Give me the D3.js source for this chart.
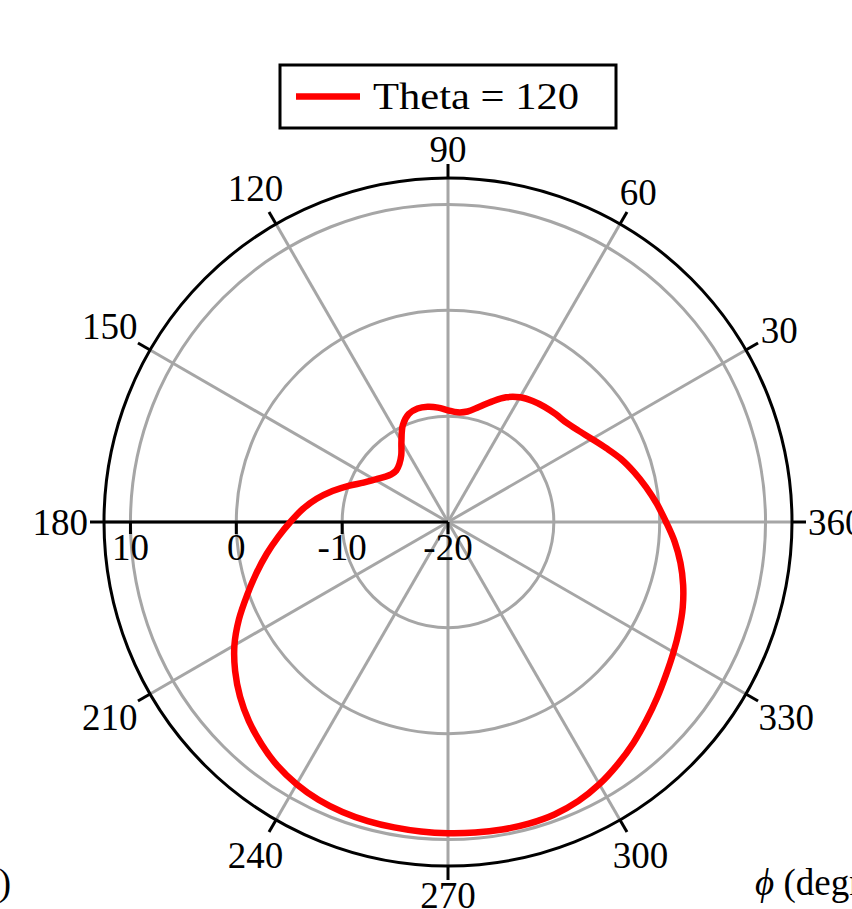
<!DOCTYPE html>
<html>
<head>
<meta charset="utf-8">
<script src="https://cdn.jsdelivr.net/npm/d3@7"></script>
<style>
  body { margin: 0; background: #fff; }
  svg text { font-family: "Liberation Serif", "Times New Roman", serif; }
</style>
</head>
<body>
<svg width="852" height="909"></svg>
<script>
// pattern data, phi in degrees, gain in dB
const phiDeg = [0, 5, 10, 15, 20, 25, 30, 35, 40, 45, 50, 55, 60, 65, 70, 75, 80, 85,
  90, 95, 100, 105, 110, 115, 120, 125, 130, 135, 140, 145, 150, 155, 160, 165, 170, 175,
  180, 185, 190, 195, 200, 205, 210, 215, 220, 225, 230, 235, 240, 245, 250, 255, 260, 265,
  270, 275, 280, 285, 290, 295, 300, 305, 310, 315, 320, 325, 330, 335, 340, 345, 350, 355];
const gainDb = [0.6, -0.2, -1.0, -1.8, -2.6, -3.5, -4.3, -4.95, -5.4, -5.6, -5.8, -6.05, -6.4, -7.0, -7.9, -8.75, -9.4, -9.6,
  -9.45, -9.15, -8.95, -8.9, -9.15, -9.9, -11.2, -12.3, -12.85, -13.1, -13.0, -12.6, -12.0, -11.2, -10.0, -8.7, -7.4, -6.2,
  -5.1, -3.9, -2.6, -1.25, 0.2, 1.8, 3.3, 4.55, 5.65, 6.6, 7.4, 8.1, 8.6, 8.95, 9.15, 9.25, 9.3, 9.35,
  9.4, 9.45, 9.5, 9.5, 9.4, 9.1, 8.6, 7.95, 7.25, 6.5, 5.8, 5.15, 4.6, 4.1, 3.6, 3.0, 2.3, 1.5];

const thetaTicks = [30, 60, 90, 120, 150, 180, 210, 240, 270, 300, 330, 360];
const rTicks = [-20, -10, 0, 10];
const rGrid = [-10, 0, 10];
const rLimits = [-20, 12.5];
const seriesLabel = "Theta = 120";
const xLabel = "(degrees)";
const yLabel = "Gain (dB)";

const cx = 448, cy = 522, R = 344;
const fs = 37;

const svg = d3.select("svg");
const g = svg.append("g").attr("transform", `translate(${cx},${cy})`);

let rScale = d3.scaleLinear().domain(rLimits).range([0, R]);
let toRad = d => d * Math.PI / 180;
// math angle (ccw from east) -> x,y on screen
let px = (deg, r) => r * Math.cos(toRad(deg));
let py = (deg, r) => -r * Math.sin(toRad(deg));

// gray grid circles
g.selectAll("circle.grid")
  .data(rGrid)
  .join("circle")
  .attr("class", "grid")
  .attr("r", d => rScale(d))
  .attr("fill", "none")
  .attr("stroke", "#a6a6a6")
  .attr("stroke-width", 3);

// gray spokes
g.selectAll("line.spoke")
  .data(thetaTicks)
  .join("line")
  .attr("class", "spoke")
  .attr("x1", 0).attr("y1", 0)
  .attr("x2", d => px(d, R)).attr("y2", d => py(d, R))
  .attr("stroke", "#a6a6a6")
  .attr("stroke-width", 3);

// outer frame
g.append("circle")
  .attr("r", R)
  .attr("fill", "none")
  .attr("stroke", "#000")
  .attr("stroke-width", 3);

// theta ticks and labels
g.selectAll("line.tt")
  .data(thetaTicks)
  .join("line")
  .attr("class", "tt")
  .attr("x1", d => px(d, R)).attr("y1", d => py(d, R))
  .attr("x2", d => px(d, R + 14)).attr("y2", d => py(d, R + 14))
  .attr("stroke", "#000")
  .attr("stroke-width", 3);

g.selectAll("text.tl")
  .data(thetaTicks)
  .join("text")
  .attr("class", "tl")
  .attr("font-size", fs)
  .attr("text-anchor", "middle")
  .text(d => d)
  .each(function(d) {
    let w = this.getComputedTextLength();
    let hh = 13;
    let a = toRad(d);
    let r = R + 16 + (w / 2) * Math.abs(Math.cos(a)) + hh * Math.abs(Math.sin(a));
    d3.select(this)
      .attr("x", px(d, r))
      .attr("y", py(d, r) + 12.5);
  });

// radial axis line along 180
g.append("line")
  .attr("x1", 0).attr("y1", 0)
  .attr("x2", -R).attr("y2", 0)
  .attr("stroke", "#000")
  .attr("stroke-width", 3);

g.selectAll("line.rt")
  .data(rTicks)
  .join("line")
  .attr("class", "rt")
  .attr("x1", d => -rScale(d)).attr("y1", 0)
  .attr("x2", d => -rScale(d)).attr("y2", 12)
  .attr("stroke", "#000")
  .attr("stroke-width", 3);

g.selectAll("text.rl")
  .data(rTicks)
  .join("text")
  .attr("class", "rl")
  .attr("font-size", fs)
  .attr("text-anchor", "middle")
  .attr("x", d => -rScale(d))
  .attr("y", 38)
  .text(d => d < 0 ? "-" + Math.abs(d) : d);

// pattern curve
let pts = phiDeg.map((p, i) => [p, gainDb[i]]);
let radial = d3.lineRadial()
  .angle(d => Math.PI / 2 - toRad(d[0]))
  .radius(d => rScale(d[1]))
  .curve(d3.curveCatmullRomClosed.alpha(0.5));

g.append("path")
  .datum(pts)
  .attr("d", radial)
  .attr("fill", "none")
  .attr("stroke", "#ff0000")
  .attr("stroke-width", 6.5)
  .attr("stroke-linejoin", "round");

// legend
let leg = svg.append("g");
leg.append("rect")
  .attr("x", 280).attr("y", 65)
  .attr("width", 336).attr("height", 63)
  .attr("fill", "#fff")
  .attr("stroke", "#000")
  .attr("stroke-width", 3);
leg.append("line")
  .attr("x1", 296).attr("x2", 360)
  .attr("y1", 96.5).attr("y2", 96.5)
  .attr("stroke", "#ff0000")
  .attr("stroke-width", 6.5);
leg.append("text")
  .attr("x", 373).attr("y", 108.5)
  .attr("font-size", fs)
  .attr("textLength", 206)
  .attr("lengthAdjust", "spacingAndGlyphs")
  .text(seriesLabel);

// axis labels (run off the page edges like the source)
svg.append("text")
  .attr("x", 755).attr("y", 895)
  .attr("font-size", fs)
  .html(`<tspan font-style="italic">\u03d5</tspan> ${xLabel}`);
svg.append("text")
  .attr("x", 11).attr("y", 895)
  .attr("font-size", fs)
  .attr("text-anchor", "end")
  .text(yLabel);
</script>
</body>
</html>
